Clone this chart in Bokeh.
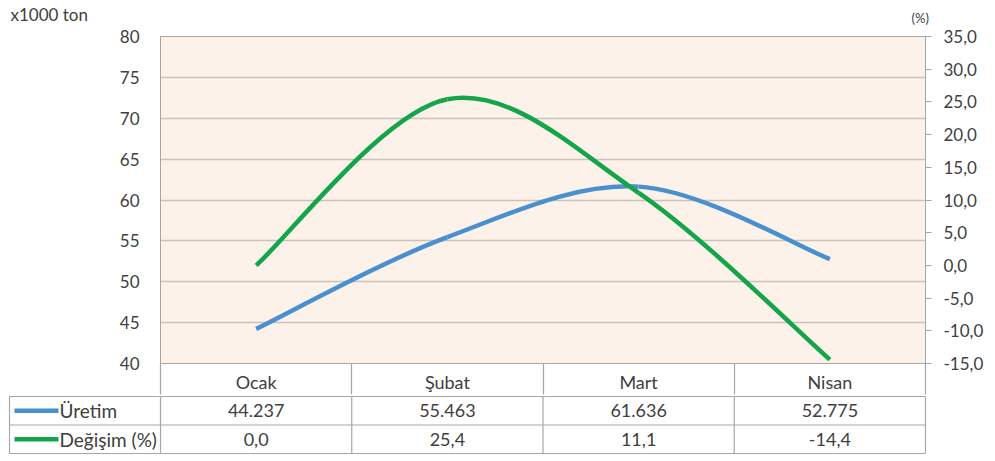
from bokeh.plotting import figure
from bokeh.models import (Range1d, LinearAxis, FixedTicker, CustomJSTickFormatter,
                          ColumnDataSource)
from bokeh.layouts import column
from bokeh.embed import file_html
from bokeh.resources import INLINE
from bokeh.core.properties import value

# ---- data ----
months = ["Ocak", "Şubat", "Mart", "Nisan"]
uretim = [44.237, 55.463, 61.636, 52.775]
degisim = [0.0, 25.4, 11.1, -14.4]
uretim_labels = ["44.237", "55.463", "61.636", "52.775"]
degisim_labels = ["0,0", "25,4", "11,1", "-14,4"]
series_names = ["Üretim", "Değişim (%)"]
left_ticks = [40, 45, 50, 55, 60, 65, 70, 75, 80]
right_ticks = [-15, -10, -5, 0, 5, 10, 15, 20, 25, 30, 35]
left_unit = "x1000 ton"
right_unit = "(%)"

BLUE = "#4A90CF"
GREEN = "#14A54B"
TXT = "#404040"
GRID = "#C9C1BA"
BORDER = "#A6A6A6"
FONT = "Lato"
FS = "17px"
FST = "18px"

W = 995
FRAME_L = 160
FRAME_R = 70
FRAME_W = W - FRAME_L - FRAME_R
PPU = FRAME_W / 4.0

xs = list(range(len(months)))


def bezier_parts(x, y):
    """Excel-like smoothing: cubic Bezier segments with Catmull-Rom tangents."""
    n = len(x)
    out = dict(x0=[], y0=[], x1=[], y1=[], cx0=[], cy0=[], cx1=[], cy1=[])
    for i in range(n - 1):
        p0 = (x[max(i - 1, 0)], y[max(i - 1, 0)])
        p1 = (x[i], y[i])
        p2 = (x[i + 1], y[i + 1])
        p3 = (x[min(i + 2, n - 1)], y[min(i + 2, n - 1)])
        out["x0"].append(p1[0]); out["y0"].append(p1[1])
        out["x1"].append(p2[0]); out["y1"].append(p2[1])
        out["cx0"].append(p1[0] + (p2[0] - p0[0]) / 6.0)
        out["cy0"].append(p1[1] + (p2[1] - p0[1]) / 6.0)
        out["cx1"].append(p2[0] - (p3[0] - p1[0]) / 6.0)
        out["cy1"].append(p2[1] - (p3[1] - p1[1]) / 6.0)
    return ColumnDataSource(out)


# ---- unit strip (top) ----
STRIP_H = 26
s = figure(width=W, height=STRIP_H, output_backend="svg", toolbar_location=None,
           x_range=Range1d(0, W), y_range=Range1d(STRIP_H, 0),
           x_axis_location=None, y_axis_location=None, frame_align=False,
           min_border=0, outline_line_color=None, background_fill_color="white",
           border_fill_color="white")
s.grid.visible = False
s.text(x=[10], y=[14], text=[left_unit], text_font=value(FONT), text_font_size="17px",
       text_color=TXT, text_align="left", text_baseline="middle")
s.text(x=[911], y=[17], text=[right_unit], text_font=value(FONT), text_font_size="13px",
       text_color=TXT, text_align="left", text_baseline="middle")

# ---- chart ----
p = figure(width=W, height=395 - STRIP_H, output_backend="svg", toolbar_location=None,
           x_range=Range1d(-0.5, 3.5), y_range=Range1d(40, 80), frame_align=False,
           min_border_left=FRAME_L, min_border_right=FRAME_R,
           min_border_top=36 - STRIP_H, min_border_bottom=31,
           background_fill_color="#FDF2EA", border_fill_color="white",
           outline_line_color=BORDER)
p.extra_y_ranges = {"pct": Range1d(-15, 35)}

# x axis = header row of the data table
p.xaxis.ticker = FixedTicker(ticks=xs, minor_ticks=[-0.5, 0.5, 1.5, 2.5, 3.5])
p.xaxis.major_label_overrides = {i: m for i, m in zip(xs, months)}
p.xaxis.axis_line_color = BORDER
p.xaxis.major_tick_line_color = None
p.xaxis.major_tick_out = 0
p.xaxis.major_tick_in = 0
p.xaxis.minor_tick_line_color = BORDER
p.xaxis.minor_tick_line_width = 1.2
p.xaxis.minor_tick_out = 31
p.xaxis.minor_tick_in = 0
p.xaxis.major_label_standoff = -24
p.xaxis.major_label_text_font = FONT
p.xaxis.major_label_text_font_size = FST
p.xaxis.major_label_text_color = TXT

p.yaxis.ticker = FixedTicker(ticks=left_ticks)
p.yaxis.axis_line_color = BORDER
p.yaxis.major_tick_line_color = None
p.yaxis.major_tick_out = 0
p.yaxis.minor_tick_line_color = None
p.yaxis.major_label_standoff = 21
p.yaxis.major_label_text_font = FONT
p.yaxis.major_label_text_font_size = FS
p.yaxis.major_label_text_color = TXT

ax2 = LinearAxis(y_range_name="pct", ticker=FixedTicker(ticks=right_ticks),
                 formatter=CustomJSTickFormatter(code="return tick.toFixed(1).replace('.', ',');"))
ax2.axis_line_color = BORDER
ax2.major_tick_line_color = BORDER
ax2.major_tick_out = 6
ax2.major_tick_in = 0
ax2.minor_tick_line_color = None
ax2.major_label_standoff = 12
ax2.major_label_text_font = FONT
ax2.major_label_text_font_size = FS
ax2.major_label_text_color = TXT
p.add_layout(ax2, "right")

p.xgrid.grid_line_color = None
p.ygrid.ticker = FixedTicker(ticks=left_ticks)
p.ygrid.grid_line_color = GRID
p.ygrid.grid_line_width = 1.6

p.bezier(x0="x0", y0="y0", x1="x1", y1="y1", cx0="cx0", cy0="cy0", cx1="cx1", cy1="cy1",
         source=bezier_parts(xs, uretim), line_color=BLUE, line_width=4.5)
p.bezier(x0="x0", y0="y0", x1="x1", y1="y1", cx0="cx0", cy0="cy0", cx1="cx1", cy1="cy1",
         source=bezier_parts(xs, degisim), line_color=GREEN, line_width=4.5,
         y_range_name="pct")

# ---- data table rows ----
T_L = 8
T_R = FRAME_R - 1
T_W = W - T_L - T_R
x_end = 3.5 + 1 / PPU
x_start = x_end - T_W / PPU
x_left = x_start + 1 / PPU
T_H = 60
t = figure(width=W, height=T_H, output_backend="svg", toolbar_location=None,
           x_range=Range1d(x_start, x_end), y_range=Range1d(2.0 + 1 / 29.0, -1 / 29.0),
           x_axis_location=None, y_axis_location=None, frame_align=False,
           min_border_left=T_L, min_border_right=T_R, min_border_top=0,
           min_border_bottom=1, outline_line_color=None,
           background_fill_color="white", border_fill_color="white")
t.grid.visible = False

cols = [x_left, -0.5, 0.5, 1.5, 2.5, 3.5]
t.segment(x0=cols, y0=[0] * 6, x1=cols, y1=[2] * 6, line_color=BORDER, line_width=1.2)
t.segment(x0=[x_left] * 3, y0=[0, 1, 2], x1=[3.5] * 3, y1=[0, 1, 2],
          line_color=BORDER, line_width=1.2)

tf = value(FONT)
t.text(x=xs, y=[0.5] * 4, text=uretim_labels, text_font=tf, text_font_size=FST,
       text_color=TXT, text_align="center", text_baseline="middle")
t.text(x=xs, y=[1.5] * 4, text=degisim_labels, text_font=tf, text_font_size=FST,
       text_color=TXT, text_align="center", text_baseline="middle")

lx0 = x_start + 6 / PPU
lx1 = x_start + 50 / PPU
t.segment(x0=[lx0, lx0], y0=[0.5, 1.5], x1=[lx1, lx1], y1=[0.5, 1.5],
          line_color=[BLUE, GREEN], line_width=4.5)
t.text(x=[lx1, lx1], y=[0.5, 1.5], text=series_names, text_font=tf,
       text_font_size="19px", text_color=TXT, text_align="left",
       text_baseline="middle", x_offset=1)

layout = column(s, p, t, spacing=0)
open("out.html", "w").write(file_html(layout, INLINE))
